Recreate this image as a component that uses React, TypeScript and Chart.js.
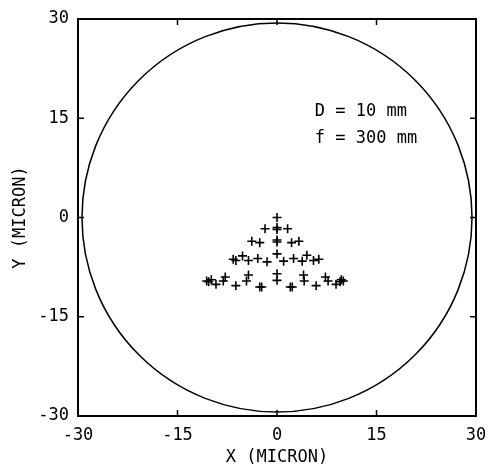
import React, { useEffect, useRef } from "react";
import { Chart, registerables } from "chart.js";

Chart.register(...registerables);

// Spot diagram points (micron)
const spotX: number[] = [
  0,
  -1.8, 0, 0, 1.6,
  -3.8, -2.6, 0, 0, 2.2, 3.3,
  -6.6, -6.2, -5.2, -4.3, -2.9, -1.5, 0, 1.0, 2.5, 3.8, 4.5, 5.5, 6.3,
  -10.6, -10.3, -9.9, -9.2, -8.1, -7.8, -6.2, -4.6, -4.3, -2.6, -2.3, 0, 0, 2.0, 2.3, 4.0, 4.1, 5.9, 7.3, 7.7, 8.9, 9.5, 9.7, 10.0,
];
const spotY: number[] = [
  0,
  -1.7, -1.5, -1.8, -1.7,
  -3.6, -3.8, -3.4, -3.7, -3.8, -3.6,
  -6.3, -6.5, -5.8, -6.5, -6.2, -6.7, -5.5, -6.6, -6.2, -6.6, -5.7, -6.5, -6.3,
  -9.6, -9.7, -9.4, -10.1, -9.6, -9.0, -10.3, -9.6, -8.7, -10.5, -10.5, -8.5, -9.5, -10.5, -10.5, -8.7, -9.6, -10.3, -9.0, -9.6, -10.1, -9.7, -9.4, -9.6,
];

const circleRadius = 29.4; // micron
const tickValues: number[] = [-30, -15, 0, 15, 30];
const annotationLines: string[] = ["D = 10 mm", "f = 300 mm"];
const annotationX = 5.7;
const annotationY: number[] = [15.3, 11.3];

const FONT = "'DejaVu Sans Mono', monospace";

const framePlugin = {
  id: "frameAndExtras",
  beforeDatasetsDraw(chart: any) {
    const { ctx, chartArea, scales } = chart;
    const xs = scales.x;
    const ys = scales.y;
    ctx.save();
    const cx = xs.getPixelForValue(0);
    const cy = ys.getPixelForValue(0);
    const rx = Math.abs(xs.getPixelForValue(circleRadius) - cx);
    const ry = Math.abs(ys.getPixelForValue(circleRadius) - cy);
    ctx.beginPath();
    ctx.ellipse(cx, cy, rx, ry, 0, 0, Math.PI * 2);
    ctx.strokeStyle = "#000";
    ctx.lineWidth = 1.5;
    ctx.stroke();

    ctx.lineWidth = 2;
    ctx.strokeRect(chartArea.left, chartArea.top, chartArea.right - chartArea.left, chartArea.bottom - chartArea.top);

    const tl = 6;
    ctx.lineWidth = 1.5;
    ctx.beginPath();
    for (const v of tickValues) {
      const px = xs.getPixelForValue(v);
      ctx.moveTo(px, chartArea.bottom);
      ctx.lineTo(px, chartArea.bottom - tl);
      ctx.moveTo(px, chartArea.top);
      ctx.lineTo(px, chartArea.top + tl);
      const py = ys.getPixelForValue(v);
      ctx.moveTo(chartArea.left, py);
      ctx.lineTo(chartArea.left + tl, py);
      ctx.moveTo(chartArea.right, py);
      ctx.lineTo(chartArea.right - tl, py);
    }
    ctx.stroke();

    ctx.fillStyle = "#000";
    ctx.font = `17px ${FONT}`;
    ctx.textAlign = "left";
    ctx.textBaseline = "alphabetic";
    annotationLines.forEach((t, i) => {
      ctx.fillText(t, xs.getPixelForValue(annotationX), ys.getPixelForValue(annotationY[i]));
    });
    ctx.restore();
  },
};

export default function App() {
  const ref = useRef<HTMLCanvasElement | null>(null);
  useEffect(() => {
    if (!ref.current) return;
    const data = spotX.map((x, i) => ({ x, y: spotY[i] }));
    const chart = new Chart(ref.current, {
      type: "scatter",
      data: {
        datasets: [
          {
            data,
            pointStyle: "cross",
            pointRadius: 4.5,
            pointBorderWidth: 1.6,
            borderColor: "#000",
            backgroundColor: "#000",
          },
        ],
      },
      options: {
        animation: false,
        responsive: false,
        maintainAspectRatio: false,
        layout: { padding: { left: 0, top: 19, right: 13, bottom: 0 } },
        plugins: { legend: { display: false }, tooltip: { enabled: false } },
        scales: {
          x: {
            type: "linear",
            min: -30,
            max: 30,
            afterBuildTicks: (s: any) => {
              s.ticks = tickValues.map((v) => ({ value: v }));
            },
            afterFit: (s: any) => {
              s.height = 50;
              s.paddingLeft = 0;
              s.paddingRight = 0;
            },
            grid: { display: false, drawTicks: false },
            border: { display: false },
            ticks: {
              padding: 9,
              color: "#000",
              font: { family: FONT, size: 17 },
              maxRotation: 0,
              autoSkip: false,
            },
            title: {
              display: true,
              text: "X (MICRON)",
              color: "#000",
              font: { family: FONT, size: 17, lineHeight: 1 },
              padding: { top: 0, bottom: 0 },
            },
          },
          y: {
            type: "linear",
            min: -30,
            max: 30,
            afterBuildTicks: (s: any) => {
              s.ticks = tickValues.map((v) => ({ value: v }));
            },
            afterFit: (s: any) => {
              s.width = 78;
              s.paddingTop = 0;
              s.paddingBottom = 0;
            },
            grid: { display: false, drawTicks: false },
            border: { display: false },
            ticks: {
              padding: 9,
              color: "#000",
              font: { family: FONT, size: 17 },
              autoSkip: false,
            },
            title: {
              display: true,
              text: "Y (MICRON)",
              color: "#000",
              font: { family: FONT, size: 17, lineHeight: 1 },
              padding: { top: 12, bottom: 0 },
            },
          },
        },
      },
      plugins: [framePlugin],
    });
    return () => chart.destroy();
  }, []);
  return (
    <div style={{ position: "fixed", left: 0, top: 0, width: 489, height: 466, background: "#fff" }}>
      <canvas ref={ref} width={489} height={466} style={{ width: 489, height: 466 }} />
    </div>
  );
}
